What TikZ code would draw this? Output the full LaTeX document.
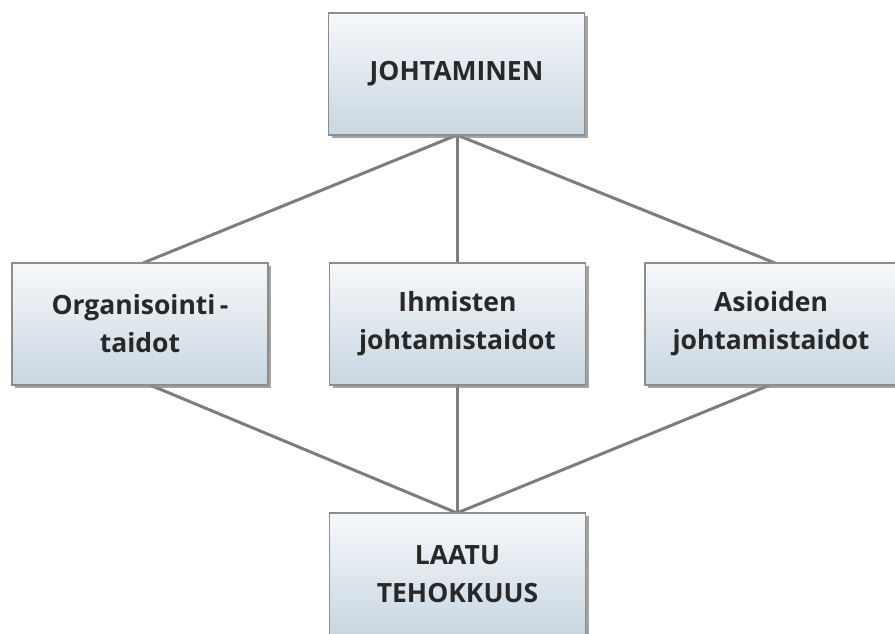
\documentclass[tikz,border=0pt]{standalone}
\usepackage{fontspec}
\setmainfont{Open Sans}
\usetikzlibrary{shadows}
\definecolor{boxtop}{RGB}{246,248,251}
\definecolor{boxbot}{RGB}{200,214,225}
\definecolor{boxedge}{RGB}{140,140,140}
\definecolor{linkgray}{RGB}{125,125,125}
\definecolor{txt}{RGB}{40,40,40}
\begin{document}
\begin{tikzpicture}[x=1pt,y=-1pt,
  card/.style={rectangle, draw=boxedge, line width=1.2pt,
    top color=boxtop, bottom color=boxbot,
    minimum width=256pt, minimum height=122pt, align=center,
    font=\bfseries\fontsize{26.5}{38}\selectfont, text=txt,
    drop shadow={shadow xshift=3pt, shadow yshift=-3pt, fill=black!45, opacity=0.8}},
  link/.style={draw=linkgray, line width=3pt}]
\useasboundingbox (0,0) rectangle (895,634);
% connectors go underneath the cards
\coordinate (t) at (457,135);
\coordinate (la) at (143,263);
\coordinate (ma) at (457,263);
\coordinate (ra) at (775,263);
\coordinate (lb) at (150,385);
\coordinate (mb) at (457,385);
\coordinate (rb) at (770,385);
\coordinate (b) at (457,513);
\draw[link] (t) -- (la);
\draw[link] (t) -- (ma);
\draw[link] (t) -- (ra);
\draw[link] (lb) -- (b);
\draw[link] (mb) -- (b);
\draw[link] (rb) -- (b);
% cards
\node[card] (top) at (456.5,74) {JOHTAMINEN};
\node[card] (left) at (140,324) {Organisointi\,-\\taidot};
\node[card] (mid) at (457.5,324) {Ihmisten\\johtamistaidot};
\node[card, minimum width=252pt] (right) at (771,324) {Asioiden\\johtamistaidot};
\node[card] (bot) at (457.5,574) {LAATU\\TEHOKKUUS};
\end{tikzpicture}
\end{document}
